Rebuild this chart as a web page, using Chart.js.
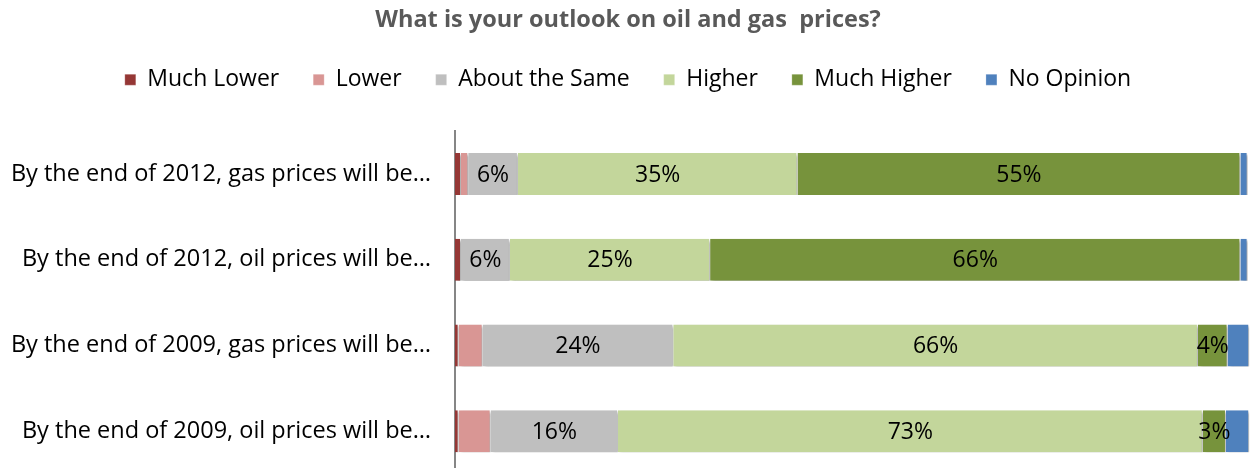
<!DOCTYPE html>
<html>
<head>
<meta charset="utf-8">
<script src="https://cdn.jsdelivr.net/npm/chart.js@4/dist/chart.umd.min.js"></script>
<style>
html,body{margin:0;padding:0;background:#fff;overflow:hidden;}
#wrap{width:1257px;height:478px;}
</style>
</head>
<body>
<div id="wrap"><canvas id="c" width="1257" height="478"></canvas></div>
<script>
const categories = [
  "By the end of 2012, gas prices will be\u2026",
  "By the end of 2012, oil prices will be\u2026",
  "By the end of 2009, gas prices will be\u2026",
  "By the end of 2009, oil prices will be\u2026"
];
const seriesNames = ["Much Lower", "Lower", "About the Same", "Higher", "Much Higher", "No Opinion"];
const muchLower   = [0.75, 0.75, 0.45, 0.45];
const lower       = [0.9, 0, 3.0, 4.0];
const aboutSame   = [6.2, 6.1, 23.8, 15.9];
const higher      = [34.9, 25.0, 65.5, 73.0];
const muchHigher  = [55.3, 66.2, 3.7, 2.9];
const noOpinion   = [0.9, 0.9, 2.7, 2.9];
const colors = ["#953735", "#D99694", "#BFBFBF", "#C3D69B", "#77933C", "#4F81BD"];
const labeledSeries = [2, 3, 4];

const FONT = "'Open Sans', sans-serif";
const seriesValues = [muchLower, lower, aboutSame, higher, muchHigher, noOpinion];

const shadowPlugin = {
  id: 'barShadow',
  beforeDatasetDraw(chart) {
    const ctx = chart.ctx;
    ctx.save();
    ctx.shadowColor = 'rgba(0,0,0,0.35)';
    ctx.shadowBlur = 3;
    ctx.shadowOffsetX = 2;
    ctx.shadowOffsetY = 2;
  },
  afterDatasetDraw(chart) {
    chart.ctx.restore();
  }
};

const labelPlugin = {
  id: 'segLabels',
  afterDatasetsDraw(chart) {
    const ctx = chart.ctx;
    ctx.save();
    ctx.font = "23px " + FONT;
    ctx.fillStyle = '#000';
    ctx.textAlign = 'center';
    ctx.textBaseline = 'middle';
    labeledSeries.forEach(di => {
      const meta = chart.getDatasetMeta(di);
      meta.data.forEach((el, i) => {
        const v = chart.data.datasets[di].data[i];
        if (!v) return;
        const p = el.getCenterPoint();
        ctx.fillText(Math.round(v) + '%', p.x, p.y + 1);
      });
    });
    ctx.restore();
  }
};

new Chart(document.getElementById('c'), {
  type: 'bar',
  data: {
    labels: categories,
    datasets: seriesNames.map((n, i) => ({
      label: n,
      data: seriesValues[i],
      backgroundColor: colors[i],
      borderColor: '#ffffff',
      borderWidth: {top: 0, right: 1, bottom: 0, left: 0},
      borderSkipped: false,
      barPercentage: 0.49,
      categoryPercentage: 1.0
    }))
  },
  options: {
    indexAxis: 'y',
    responsive: false,
    animation: false,
    layout: {padding: {left: 0, right: 1, top: 0, bottom: 4}},
    scales: {
      x: {
        stacked: true, min: 0, max: 100, position: 'top',
        display: true,
        grid: {display: false, drawTicks: false},
        border: {display: false},
        ticks: {display: false},
        afterFit(scale) { scale.height = 30; scale.paddingLeft = 0; scale.paddingRight = 0; }
      },
      y: {
        stacked: true,
        grid: {display: false, drawTicks: false},
        border: {display: true, color: '#868686', width: 2},
        ticks: {color: '#000', font: {family: FONT, size: 23.5}, padding: 24},
        afterFit(scale) { scale.width = 455; scale.paddingTop = 0; scale.paddingBottom = 0; }
      }
    },
    plugins: {
      title: {
        display: true,
        text: 'What is your outlook on oil and gas  prices?',
        color: '#595959',
        font: {family: FONT, size: 23.5, weight: 'bold'},
        padding: {top: 6, bottom: 0}
      },
      legend: {
        display: true,
        position: 'top',
        labels: {
          color: '#000',
          font: {family: FONT, size: 23},
          boxWidth: 11, boxHeight: 11,
          padding: 34
        },
        onClick: null
      },
      tooltip: {enabled: false}
    }
  },
  plugins: [shadowPlugin, labelPlugin]
});
</script>
</body>
</html>
